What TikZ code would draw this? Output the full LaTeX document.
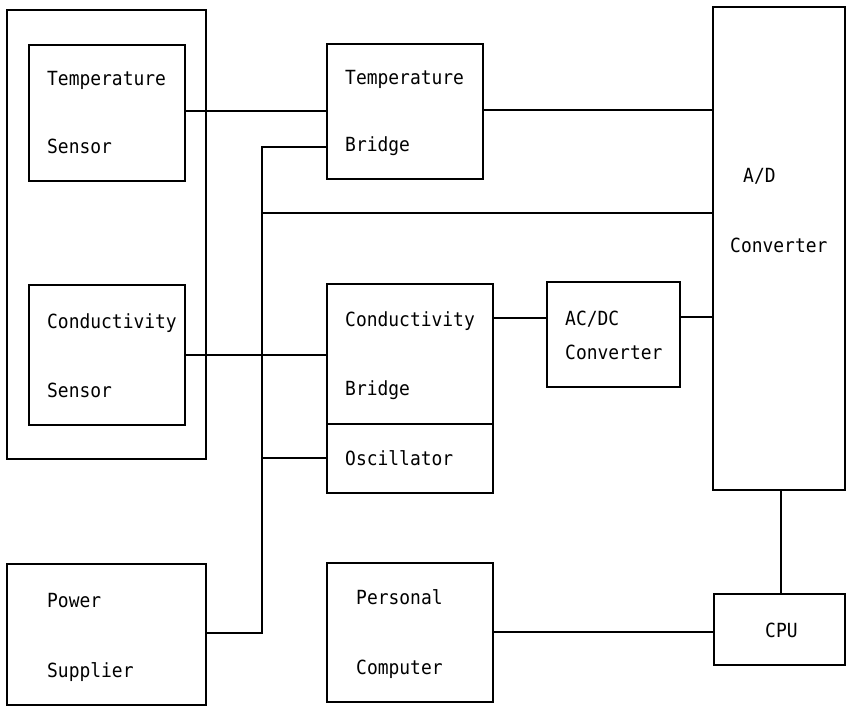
\documentclass[tikz,border=0pt]{standalone}
\usepackage{fontspec}
\newfontfamily\labelfont[FakeStretch=0.92]{DejaVu Sans Mono}
\begin{document}
\begin{tikzpicture}[x=1pt,y=-1pt,
  box/.style={draw,line width=1.1pt,inner sep=0pt,outer sep=0pt,anchor=north west},
  lbl/.style={inner sep=0pt,anchor=base west,font=\labelfont\fontsize{19.5}{21}\selectfont},
  wire/.style={line width=1.1pt}]
\useasboundingbox (0,0) rectangle (847,706);

% housing around the two sensors
\node[box,minimum width=199pt,minimum height=449pt] (housing) at (7,10) {};

% sensors
\node[box,minimum width=156pt,minimum height=136pt] (tsens) at (29,45) {};
\node[lbl] (tsensA) at (47,86) {Temperature};
\node[lbl] (tsensB) at (47,154) {Sensor};

\node[box,minimum width=156pt,minimum height=140pt] (csens) at (29,285) {};
\node[lbl] (csensA) at (47,328) {Conductivity};
\node[lbl] (csensB) at (47,397) {Sensor};

% bridges
\node[box,minimum width=156pt,minimum height=135pt] (tbr) at (327,44) {};
\node[lbl] (tbrA) at (345,85) {Temperature};
\node[lbl] (tbrB) at (345,152) {Bridge};

\node[box,minimum width=166pt,minimum height=140pt] (cbr) at (327,284) {};
\node[lbl] (cbrA) at (345,326) {Conductivity};
\node[lbl] (cbrB) at (345,395) {Bridge};

\node[box,minimum width=166pt,minimum height=69pt] (osc) at (327,424) {};
\node[lbl] (oscA) at (345,465) {Oscillator};

% converters
\node[box,minimum width=133pt,minimum height=105pt] (acdc) at (547,282) {};
\node[lbl] (acdcA) at (565,325) {AC/DC};
\node[lbl] (acdcB) at (565,359) {Converter};

\node[box,minimum width=132pt,minimum height=483pt] (adc) at (713,7) {};
\node[lbl] (adcA) at (743,183) {A/D};
\node[lbl] (adcB) at (730,252) {Converter};

% bottom row
\node[box,minimum width=199pt,minimum height=141pt] (psu) at (7,564) {};
\node[lbl] (psuA) at (47,607) {Power};
\node[lbl] (psuB) at (47,677) {Supplier};

\node[box,minimum width=166pt,minimum height=139pt] (pc) at (327,563) {};
\node[lbl] (pcA) at (356,604) {Personal};
\node[lbl] (pcB) at (356,674) {Computer};

\node[box,minimum width=131pt,minimum height=71pt] (cpu) at (714,594) {};
\node[lbl] (cpuA) at (765,637) {CPU};

% supply bus
\coordinate (busTop) at (262,147);
\coordinate (busBot) at (262,633);
\draw[wire] (tbr.west |- busTop) -- (busTop) -- (busBot) -- (psu.east |- busBot);
\draw[wire] (262,213) -- (adc.west |- 0,213);
\draw[wire] (262,458) -- (osc.west |- 0,458);

% signal paths
\draw[wire] (tsens.east |- 0,111) -- (tbr.west |- 0,111);
\draw[wire] (tbr.east |- 0,110) -- (adc.west |- 0,110);
\draw[wire] (csens.east |- 0,355) -- (cbr.west |- 0,355);
\draw[wire] (cbr.east |- 0,318) -- (acdc.west |- 0,318);
\draw[wire] (acdc.east |- 0,317) -- (adc.west |- 0,317);
\draw[wire] (adc.south -| 781,0) -- (cpu.north -| 781,0);
\draw[wire] (pc.east |- 0,632) -- (cpu.west |- 0,632);
\end{tikzpicture}
\end{document}
